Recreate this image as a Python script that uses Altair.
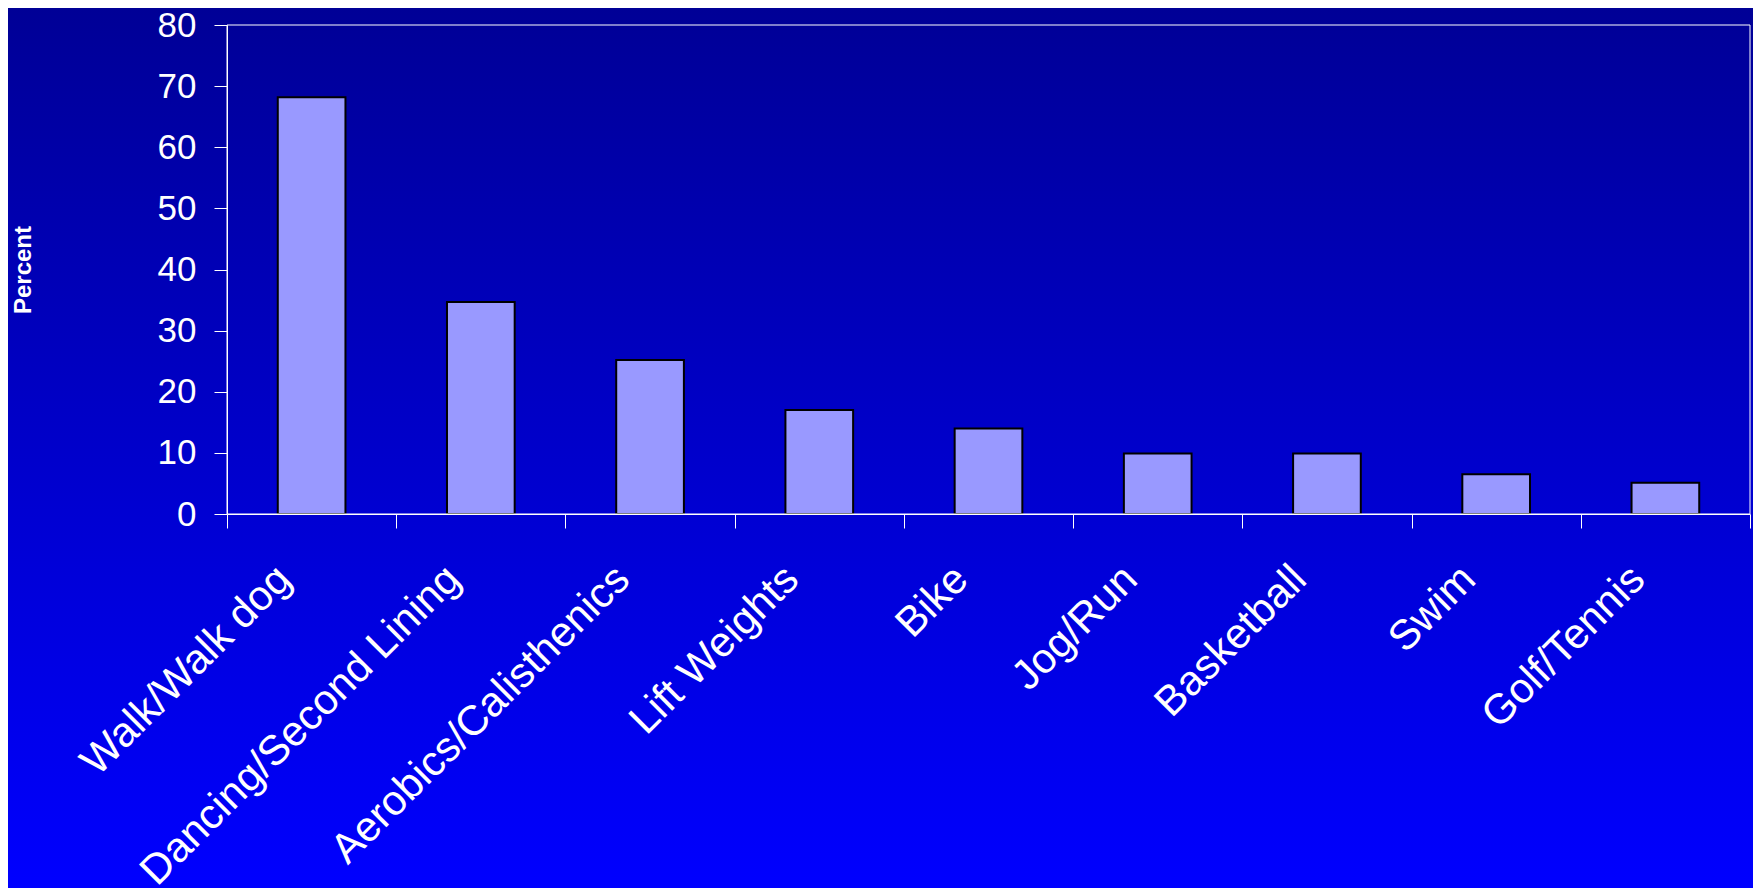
import altair as alt
import pandas as pd

activities = ["Walk/Walk dog", "Dancing/Second Lining", "Aerobics/Calisthenics",
              "Lift Weights", "Bike", "Jog/Run", "Basketball", "Swim", "Golf/Tennis"]
percents = [68.2, 34.7, 25.2, 17.0, 14.0, 9.9, 9.9, 6.5, 5.1]
y_ticks = [0, 10, 20, 30, 40, 50, 60, 70, 80]

W = 1523
H = 489
PAD_L = 219
PAD_T = 17
PAD_R = 3
PAD_B = 374

FONT = "Liberation Sans"

df = pd.DataFrame({"Activity": activities, "Percent": percents})

gradient = alt.LinearGradient(
    gradient="linear", x1=0, y1=0, x2=0, y2=1,
    stops=[alt.GradientStop(offset=0, color="#000096"),
           alt.GradientStop(offset=1, color="#0000FF")],
)

bg = alt.Chart(pd.DataFrame({"k": [0]})).mark_rect(fill=gradient, clip=False).encode(
    x=alt.value(-PAD_L), x2=alt.value(W + PAD_R),
    y=alt.value(-PAD_T), y2=alt.value(H + PAD_B),
)

bars = alt.Chart(df).mark_bar(
    fill="#9999FF", stroke="#000000", strokeWidth=2,
    width=alt.RelativeBandSize(0.4),
).encode(
    x=alt.X("Activity:N", sort=activities,
            scale=alt.Scale(paddingInner=0, paddingOuter=0),
            axis=alt.Axis(title=None, domainColor="#FFFFFF", tickColor="#FFFFFF",
                          tickSize=14, tickBand="extent", labelAngle=315,
                          labelAlign="right", labelBaseline="middle",
                          labelFont=FONT, labelFontSize=42, labelColor="#FFFFFF",
                          labelPadding=44, labelOffset=-28, labelLimit=0,
                          labelOverlap=False, zindex=1)),
    y=alt.Y("Percent:Q", scale=alt.Scale(domain=[0, 80], nice=False),
            axis=alt.Axis(title="Percent", values=y_ticks, grid=False,
                          domainColor="#FFFFFF", tickColor="#FFFFFF", tickSize=13,
                          labelPadding=18, labelFont=FONT, labelFontSize=35,
                          labelColor="#FFFFFF", titleFont=FONT, titleFontSize=24,
                          titleFontWeight="bold", titleColor="#FFFFFF",
                          titlePadding=122, zindex=1)),
)

frame = alt.Chart(pd.DataFrame({"k": [0]})).mark_rect(
    fill="transparent", stroke="#FFFFFF", strokeWidth=1
).encode(
    x=alt.value(0), x2=alt.value(W), y=alt.value(0), y2=alt.value(H)
)

chart = alt.layer(bg, bars, frame).properties(
    width=W, height=H,
    autosize=alt.AutoSizeParams(type="none"),
    padding={"left": PAD_L, "top": PAD_T, "right": PAD_R, "bottom": PAD_B},
    background="#0000CC",
).configure_view(stroke=None)

chart.save("out.html", embed_options={"renderer": "svg", "actions": False})
